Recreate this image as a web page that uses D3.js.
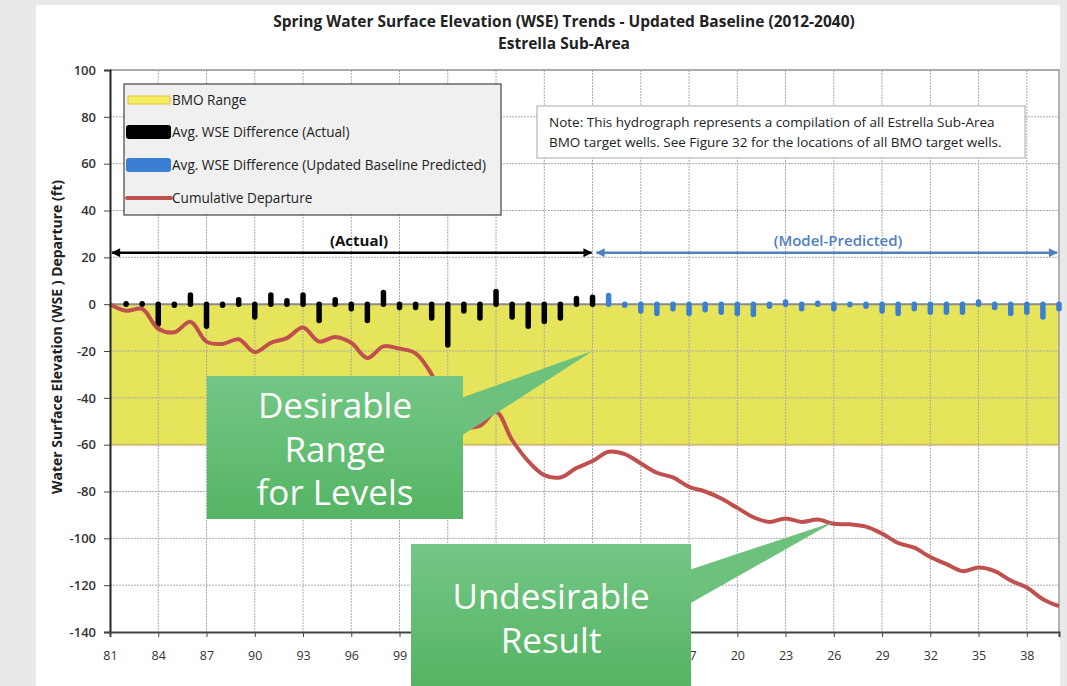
<!DOCTYPE html>
<html>
<head>
<meta charset="utf-8">
<script src="https://cdn.jsdelivr.net/npm/d3@7"></script>
<style>
  body { margin: 0; background: #e9e9e9; }
  svg { display: block; }
</style>
</head>
<body>
<div id="chart"></div>
<script>
// Chart values
const actualYears = d3.range(1982, 2012);
const actualDiff = [0.5, 1, -9.5, -1.5, 5, -10.5, -1.5, 3, -6.5, 5, 2.5, 5, -8, 3, -3, -8, 6, -2.5, -2.5, -7,
  -18.5, -4, -7, 6.5, -6.5, -10.5, -8.5, -7, 3.5, 4];
const predictedYears = d3.range(2012, 2041);
const predictedDiff = [4.8, -1.5, -4, -5, -3, -5, -3.5, -4.5, -5, -5.5, -2, 2, -3, 1.5, -3, -0.5, -2, -4, -5, -3,
  -4.5, -4.5, -4.5, 2, -2.5, -5, -4.5, -6.5, -3];
const cumYears = d3.range(1981, 2041);
const cumDeparture = [0, -2.8, -2, -10.5, -12, -7.5, -16, -17, -15, -20.5, -16.5, -14.5, -10, -16, -14, -16.5, -23, -18, -19, -21,
  -30, -45, -52, -52, -46, -58, -67, -73, -74, -70, -67, -63, -64, -68, -72, -74, -78, -80, -83, -87,
  -91, -93, -91.5, -93, -92, -93.8, -94, -95, -98, -102, -104, -108, -111, -114, -112.5, -114, -118, -121, -126, -129];
const bmoRange = [-60, 0];
const yTicks = d3.range(-140, 101, 20);
const xTicks = d3.range(1981, 2040, 3);
const legendItems = ["BMO Range", "Avg. WSE Difference (Actual)", "Avg. WSE Difference (Updated Baseline Predicted)", "Cumulative Departure"];

const W = 1067, H = 686;
const plot = { left: 110, right: 1059, top: 70, bottom: 632 };
const font = "'Open Sans', sans-serif";

const svg = d3.select("#chart").append("svg")
  .attr("width", W).attr("height", H)
  .style("font-family", font);

// white panel over the grey page
svg.append("rect").attr("x", 36).attr("y", 5).attr("width", 1024).attr("height", H - 5).attr("fill", "#fff");

const x = d3.scaleLinear().domain([1981, 2040]).range([plot.left, plot.right]);
const y = d3.scaleLinear().domain([-140, 100]).range([plot.bottom, plot.top]);

// Title
svg.append("text").attr("x", 564).attr("y", 27).attr("text-anchor", "middle")
  .attr("font-size", 15.5).attr("font-weight", "bold").attr("fill", "#222")
  .text("Spring Water Surface Elevation (WSE) Trends - Updated Baseline (2012-2040)");
svg.append("text").attr("x", 564).attr("y", 49).attr("text-anchor", "middle")
  .attr("font-size", 15.5).attr("font-weight", "bold").attr("fill", "#222")
  .text("Estrella Sub-Area");

// BMO range band
svg.append("rect")
  .attr("x", plot.left).attr("width", plot.right - plot.left)
  .attr("y", y(bmoRange[1])).attr("height", y(bmoRange[0]) - y(bmoRange[1]))
  .attr("fill", "#e6e45a");
svg.append("line")
  .attr("x1", plot.left).attr("x2", plot.right)
  .attr("y1", y(bmoRange[0])).attr("y2", y(bmoRange[0]))
  .attr("stroke", "#e9c85a").attr("stroke-width", 2);

// Gridlines
const grid = svg.append("g").attr("stroke", "#aaa").attr("stroke-width", 1).attr("stroke-dasharray", "2,1");
grid.selectAll(".gx").data(xTicks.slice(1)).join("line")
  .attr("x1", d => x(d)).attr("x2", d => x(d)).attr("y1", plot.top).attr("y2", plot.bottom);
grid.selectAll(".gy").data(yTicks.filter(d => d !== 0 && d !== -140)).join("line")
  .attr("x1", plot.left).attr("x2", plot.right).attr("y1", d => y(d)).attr("y2", d => y(d));

// plot border (top/right)
svg.append("path")
  .attr("d", `M${plot.left},${plot.top}H${plot.right}V${plot.bottom}`)
  .attr("fill", "none").attr("stroke", "#999").attr("stroke-width", 1.5);

// zero line
svg.append("line").attr("x1", plot.left).attr("x2", plot.right)
  .attr("y1", y(0)).attr("y2", y(0)).attr("stroke", "#8a8a8a").attr("stroke-width", 2);

// Bars drawn as round-capped strokes
function bars(years, vals, color) {
  svg.append("g").selectAll("line").data(years.map((yr, i) => [yr, vals[i]])).join("line")
    .attr("x1", d => x(d[0])).attr("x2", d => x(d[0]))
    .attr("y1", y(0))
    .attr("y2", d => { const v = d[1]; const h = y(0) - y(v); return Math.abs(h) < 3 ? y(0) - Math.sign(h) * 0.5 : y(v) + Math.sign(h) * 2.5; })
    .attr("stroke", color).attr("stroke-width", 5.5).attr("stroke-linecap", "round");
}
bars(actualYears, actualDiff, "#000");
bars(predictedYears, predictedDiff, "#3b7fd4");

// Cumulative departure line
svg.append("path")
  .datum(cumYears.map((yr, i) => [yr, cumDeparture[i]]))
  .attr("d", d3.line().x(d => x(d[0])).y(d => y(d[1])).curve(d3.curveCatmullRom.alpha(0.5)))
  .attr("fill", "none").attr("stroke", "#c0504d").attr("stroke-width", 4).attr("stroke-linejoin", "round");

// Axes
const yAxis = svg.append("g").attr("transform", `translate(${plot.left},0)`)
  .call(d3.axisLeft(y).tickValues(yTicks).tickSize(6).tickPadding(8).tickFormat(d => String(d)));
const xAxis = svg.append("g").attr("transform", `translate(0,${plot.bottom})`)
  .call(d3.axisBottom(x).tickValues(xTicks).tickSize(5).tickPadding(14)
    .tickFormat(d => String(d % 100).padStart(2, "0")));
[yAxis, xAxis].forEach(a => {
  a.select(".domain").attr("stroke", "#222").attr("stroke-width", 2);
  a.selectAll(".tick line").attr("stroke", "#444");
  a.selectAll("text").attr("font-family", font).attr("fill", "#333");
});
yAxis.selectAll("text").attr("font-size", 13).attr("font-weight", 600);
xAxis.selectAll("text").attr("font-size", 12.5);
xAxis.select(".domain").attr("stroke", "#444");

svg.append("text")
  .attr("transform", `translate(62,337) rotate(-90)`)
  .attr("text-anchor", "middle").attr("font-size", 14).attr("font-weight", "bold").attr("fill", "#222")
  .text("Water Surface Elevation (WSE ) Departure (ft)");

// Period arrows
const defs = svg.append("defs");
function marker(id, color) {
  defs.append("marker").attr("id", id).attr("viewBox", "0 0 10 10").attr("refX", 9).attr("refY", 5)
    .attr("markerWidth", 4.5).attr("markerHeight", 3.6).attr("orient", "auto-start-reverse")
    .attr("markerUnits", "strokeWidth")
    .append("path").attr("d", "M0,0L10,5L0,10z").attr("fill", color);
}
marker("ab", "#000");
marker("ap", "#4f81bd");
const arrowY = y(22);
svg.append("line").attr("x1", plot.left + 2).attr("x2", x(2011) - 1).attr("y1", arrowY).attr("y2", arrowY)
  .attr("stroke", "#000").attr("stroke-width", 2.5)
  .attr("marker-start", "url(#ab)").attr("marker-end", "url(#ab)");
svg.append("line").attr("x1", x(2011) + 4).attr("x2", plot.right - 2).attr("y1", arrowY).attr("y2", arrowY)
  .attr("stroke", "#4f81bd").attr("stroke-width", 2.5)
  .attr("marker-start", "url(#ap)").attr("marker-end", "url(#ap)");
svg.append("text").attr("x", 359).attr("y", arrowY - 7).attr("text-anchor", "middle")
  .attr("font-size", 15).attr("font-weight", "bold").attr("fill", "#111").text("(Actual)");
svg.append("text").attr("x", 838).attr("y", arrowY - 7).attr("text-anchor", "middle")
  .attr("font-size", 15).attr("font-weight", 600).attr("fill", "#4f81bd").text("(Model-Predicted)");

// Legend
const lg = svg.append("g").attr("transform", "translate(124,84)");
lg.append("rect").attr("width", 377).attr("height", 131).attr("fill", "#f0f0f0").attr("stroke", "#444").attr("stroke-width", 1.2);
const rowY = [16, 48, 81, 114];
lg.append("rect").attr("x", 4).attr("y", rowY[0] - 4).attr("width", 42).attr("height", 8).attr("fill", "#f5ee60").attr("stroke", "#e8c040");
lg.append("rect").attr("x", 2).attr("y", rowY[1] - 7).attr("width", 45).attr("height", 14).attr("rx", 3).attr("fill", "#000");
lg.append("rect").attr("x", 2).attr("y", rowY[2] - 7).attr("width", 45).attr("height", 14).attr("rx", 3).attr("fill", "#3b7fd4");
lg.append("line").attr("x1", 3).attr("x2", 47).attr("y1", rowY[3]).attr("y2", rowY[3])
  .attr("stroke", "#c0504d").attr("stroke-width", 4).attr("stroke-linecap", "round");
lg.selectAll(".lt").data(legendItems).join("text")
  .attr("x", 48).attr("y", (d, i) => rowY[i] + 5)
  .attr("font-size", 13.6).attr("fill", "#222").text(d => d);

// Note box
const nb = svg.append("g").attr("transform", "translate(537,106)");
nb.append("rect").attr("width", 488).attr("height", 52).attr("fill", "#fff").attr("stroke", "#aaa");
nb.append("text").attr("x", 12).attr("y", 21).attr("font-size", 13.5).attr("fill", "#222")
  .text("Note:  This hydrograph represents a compilation of all Estrella Sub-Area");
nb.append("text").attr("x", 12).attr("y", 41).attr("font-size", 13.5).attr("fill", "#222")
  .text("BMO target wells.  See Figure 32 for the locations of all BMO target wells.");

// Callouts
const grad = defs.append("linearGradient").attr("id", "cg").attr("x1", 0).attr("y1", 0).attr("x2", 0).attr("y2", 1);
grad.append("stop").attr("offset", 0).attr("stop-color", "#73c785");
grad.append("stop").attr("offset", 1).attr("stop-color", "#55b463");
function callout(bx, by, bw, bh, tip, base, lines, baseY) {
  svg.append("path")
    .attr("d", `M${bx + bw - 2},${base[0]}L${tip[0]},${tip[1]}L${bx + bw - 2},${base[1]}Z`)
    .attr("fill", "#6cc27d");
  svg.append("rect").attr("x", bx).attr("y", by).attr("width", bw).attr("height", bh).attr("fill", "url(#cg)");
  svg.append("g").selectAll("text").data(lines).join("text")
    .attr("x", bx + bw / 2).attr("y", (d, i) => baseY + i * 43.5)
    .attr("text-anchor", "middle").attr("font-family", "'Open Sans', sans-serif")
    .attr("font-size", 35).attr("fill", "#fff").text(d => d);
}
callout(207, 376, 256, 143, [x(2011), y(-20)], [398, 436], ["Desirable", "Range", "for Levels"], 418);
callout(411, 544, 280, 142, [x(2026), y(-93)], [570, 604], ["Undesirable", "Result"], 609);

// tick labels fully behind the lower callout are not visible in the source
xAxis.selectAll(".tick text").filter(d => x(d) > 420 && x(d) < 680).remove();
</script>
</body>
</html>
